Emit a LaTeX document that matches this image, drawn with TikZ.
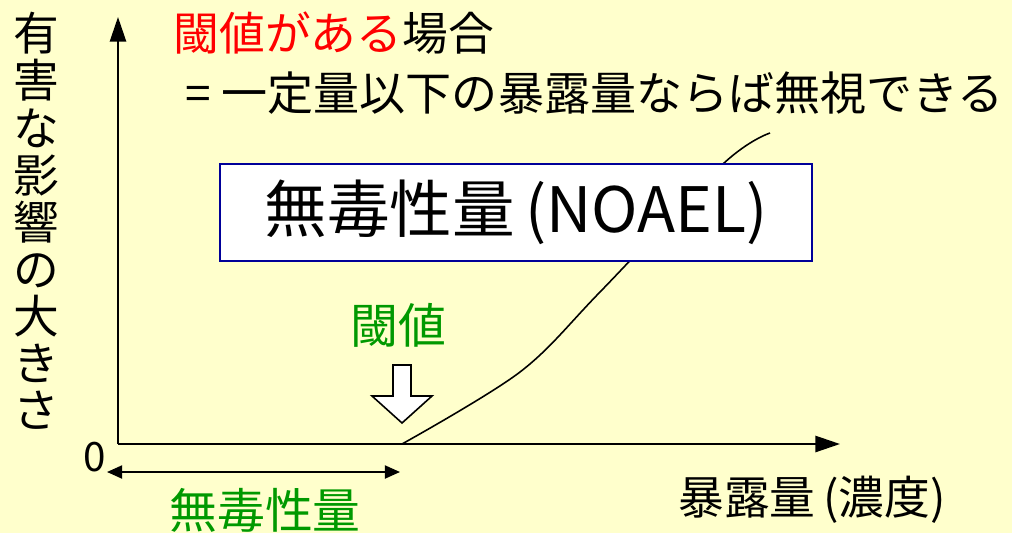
\documentclass[tikz,border=0pt]{standalone}
\usepackage{fontspec}
\setmainfont{Noto Sans CJK JP}
\usepackage{xcolor}
\usepackage{tikz}
\usetikzlibrary{arrows.meta}
\definecolor{bg}{HTML}{FFFFCC}
\definecolor{text}{HTML}{000000}
\definecolor{alert}{HTML}{FF0000}
\definecolor{safe}{HTML}{009900}
\definecolor{frame}{HTML}{000099}
\tikzset{
  axis/.style={draw=text, line width=0.6pt, -{Triangle[length=7pt,width=4.6pt]}},
  span/.style={draw=text, line width=0.6pt, {Triangle[length=4.3pt,width=3.7pt]}-{Triangle[length=4.3pt,width=3.7pt]}},
  curve/.style={draw=text, line width=0.45pt},
  hollow/.style={draw=text, fill=white, line width=0.45pt, line join=miter},
  lab/.style={text=text, inner sep=0pt, font=\fontsize{13pt}{13.4pt}\selectfont},
  labg/.style={text=safe, inner sep=0pt, font=\fontsize{13.6pt}{16pt}\selectfont},
  labb/.style={draw=frame, fill=white, line width=0.6pt, text=text, font=\fontsize{17.8pt}{20pt}\selectfont, minimum width=5.91cm, minimum height=0.97cm},
}

\begin{document}
\begin{tikzpicture}[x=0.01cm, y=-0.01cm]
  \fill[bg] (0,0) rectangle (1012,533);
  \useasboundingbox (0,0) rectangle (1012,533);
  \coordinate (o) at (118,444);
  \coordinate (ytop) at (118,17);
  \coordinate (xend) at (840,444);
  \coordinate (thr) at (402,444);
  \coordinate (sl) at (107,472);
  \coordinate (sr) at (400,472);
  \draw[axis] (o) -- (ytop);
  \draw[axis] (o) -- (xend);
  \draw[curve] plot[smooth, tension=0.55] coordinates {(thr) (520,372) (600,292) (723,164) (770,133)};
  \draw[span] (sl) -- (sr);
  \node[labb] (noael) at (516,212.5) {無毒性量\,(NOAEL)};
  \draw[hollow] (393,365) -- (411,365) -- (411,396) -- (432,396) -- (402,423) -- (372,396) -- (393,396) -- cycle;
  \node[labg] (thrlab) at (398,325) {閾値};
  \node[labg] (spanlab) at (265,510) {無毒性量};
  \node[lab] (xlab) at (812,500) {暴露量\,(濃度)};
  \node[lab, align=center] (ylab) at (36,221) {有\\害\\な\\影\\響\\の\\大\\き\\さ};
  \node[lab, font=\fontsize{11.5pt}{13pt}\selectfont] (zero) at (95,457) {0};
  \node[lab, anchor=west] (case) at (173,33) {\textcolor{alert}{閾値がある}場合};
  \node[lab, anchor=west, font=\fontsize{13.1pt}{14pt}\selectfont] (means) at (185,93) {=\ 一定量以下の暴露量ならば無視できる};
\end{tikzpicture}
\end{document}
